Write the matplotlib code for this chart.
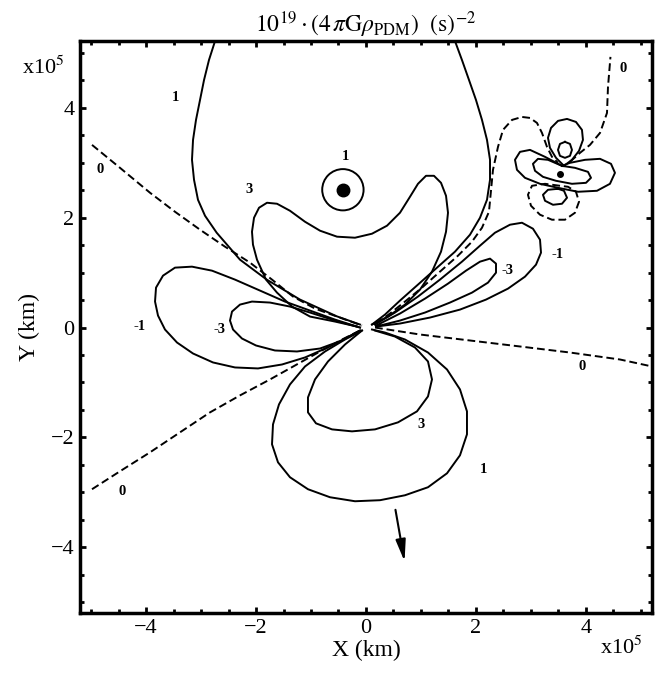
import matplotlib.pyplot as plt
from matplotlib.patches import Circle

plt.rcParams['font.family'] = ['Liberation Serif', 'DejaVu Serif']
plt.rcParams['mathtext.fontset'] = 'stix'

# contour lines, in units of 1e5 km
c1_left_x = [-2.745, -2.855, -2.945, -3.018, -3.091, -3.145, -3.164, -3.127, -3.055, -2.927, -2.715,
             -2.291, -1.805, -1.2, -0.533, -0.109]
c1_left_y = [5.218, 4.873, 4.509, 4.145, 3.782, 3.418, 3.055, 2.691, 2.327, 2.036, 1.727,
             1.236, 0.873, 0.509, 0.205, 0.055]

c1_right_x = [1.618, 1.745, 1.873, 2.0, 2.109, 2.2, 2.255, 2.255, 2.2, 2.073, 1.891, 1.618, 1.291,
              0.945, 0.618, 0.345, 0.109]
c1_right_y = [5.218, 4.873, 4.509, 4.145, 3.782, 3.418, 3.055, 2.691, 2.327, 2.0, 1.691, 1.382, 1.091,
              0.782, 0.491, 0.236, 0.055]

c3_top_x = [-0.164, -0.564, -1.018, -1.345, -1.618, -1.818, -1.982, -2.055, -2.073, -2.036, -1.945,
            -1.8, -1.618, -1.382, -1.109, -0.836, -0.527, -0.2, 0.109, 0.382, 0.618, 0.8, 0.945,
            1.091, 1.236, 1.364, 1.455, 1.491, 1.455, 1.364, 1.2, 0.982, 0.709, 0.4, 0.109]
c3_top_y = [0.018, 0.109, 0.2, 0.382, 0.636, 0.873, 1.236, 1.509, 1.745, 2.0, 2.182,
            2.273, 2.255, 2.127, 1.927, 1.764, 1.655, 1.636, 1.709, 1.855, 2.091, 2.382, 2.618,
            2.764, 2.764, 2.636, 2.4, 2.091, 1.745, 1.382, 1.018, 0.691, 0.418, 0.2, 0.055]

cm1_left_x = [-0.109, -0.564, -1.018, -1.473, -1.927, -2.382, -2.8, -3.164, -3.473, -3.691, -3.818,
              -3.836, -3.782, -3.655, -3.436, -3.145, -2.782, -2.382, -1.964, -1.527, -1.109,
              -0.655, -0.109]
cm1_left_y = [0, 0.145, 0.309, 0.473, 0.673, 0.873, 1.036, 1.109, 1.091, 0.945, 0.727,
              0.473, 0.218, -0.036, -0.273, -0.473, -0.636, -0.727, -0.745, -0.673, -0.545,
              -0.345, -0.055]

cm3_left_x = [-0.109, -0.564, -1.018, -1.382, -1.745, -2.073, -2.291, -2.436, -2.473, -2.418, -2.255,
              -2.0, -1.655, -1.255, -0.836, -0.436, -0.109]
cm3_left_y = [0, 0.127, 0.273, 0.382, 0.455, 0.473, 0.418, 0.291, 0.127, -0.036, -0.2,
              -0.327, -0.418, -0.436, -0.382, -0.236, -0.055]

c1_low_x = [-0.073, -0.382, -0.745, -1.109, -1.382, -1.582, -1.691, -1.709, -1.6, -1.382, -1.055,
            -0.655, -0.2, 0.255, 0.709, 1.127, 1.473, 1.709, 1.836, 1.836, 1.709, 1.473, 1.127,
            0.709, 0.345, 0.109]
c1_low_y = [-0.055, -0.218, -0.436, -0.709, -1.036, -1.4, -1.764, -2.127, -2.455, -2.727, -2.945,
            -3.091, -3.164, -3.145, -3.055, -2.909, -2.655, -2.327, -1.945, -1.527, -1.127, -0.764, -0.455,
            -0.218, -0.091, -0.036]

c3_low_x = [-0.073, -0.382, -0.691, -0.927, -1.055, -1.055, -0.909, -0.618, -0.255, 0.164, 0.582,
            0.927, 1.127, 1.2, 1.127, 0.891, 0.527, 0.164]
c3_low_y = [-0.055, -0.309, -0.618, -0.945, -1.273, -1.545, -1.745, -1.855, -1.891, -1.855, -1.727,
            -1.527, -1.255, -0.945, -0.618, -0.364, -0.164, -0.055]

cm1_right_x = [0.164, 0.527, 0.945, 1.345, 1.745, 2.073, 2.345, 2.618, 2.836, 3.036, 3.164, 3.182,
               3.091, 2.891, 2.582, 2.182, 1.709, 1.164, 0.618, 0.182]
cm1_right_y = [0.055, 0.273, 0.564, 0.873, 1.2, 1.491, 1.727, 1.873, 1.909, 1.8, 1.6, 1.364,
               1.145, 0.927, 0.709, 0.509, 0.327, 0.182, 0.073, 0.018]

cm3_right_x = [0.182, 0.618, 1.073, 1.491, 1.818, 2.073, 2.255, 2.364, 2.364, 2.218, 1.927, 1.527,
               1.073, 0.618, 0.182]
cm3_right_y = [0.036, 0.255, 0.527, 0.8, 1.036, 1.2, 1.255, 1.164, 1.0, 0.818, 0.636, 0.455,
               0.273, 0.127, 0.018]

# zero contours (dashed)
z_ul_x = [-4.982, -4.473, -3.927, -3.473, -3.018, -2.564, -2.109, -1.709, -1.327, -0.927, -0.527, -0.073]
z_ul_y = [3.327, 2.909, 2.455, 2.109, 1.782, 1.473, 1.182, 0.873, 0.564, 0.345, 0.2, 0.036]
z_ll_x = [-4.982, -4.473, -3.927, -3.382, -2.836, -2.291, -1.745, -1.291, -0.836, -0.436, -0.109]
z_ll_y = [-2.945, -2.618, -2.273, -1.909, -1.545, -1.236, -0.945, -0.691, -0.436, -0.218, -0.055]
z_r_x = [0.164, 0.982, 1.891, 2.8, 3.709, 4.618, 5.2]
z_r_y = [0, -0.127, -0.236, -0.345, -0.455, -0.582, -0.709]
z_moon_x = [0.182, 0.436, 0.709, 1.018, 1.345, 1.673, 1.927, 2.109, 2.236, 2.309, 2.4, 2.491,
            2.655, 2.836, 2.982, 3.109, 3.2, 3.291, 3.382, 3.491]
z_moon_y = [0.073, 0.255, 0.473, 0.727, 1.018, 1.309, 1.564, 1.818, 2.109, 2.873, 3.291, 3.6,
            3.782, 3.836, 3.818, 3.727, 3.545, 3.291, 3.109, 3.0]
z_top_x = [3.709, 3.891, 4.073, 4.255, 4.382, 4.4, 4.445]
z_top_y = [3.018, 3.182, 3.327, 3.545, 3.909, 4.382, 4.93]
z_pet_x = [3.527, 3.255, 3.018, 2.945, 3.0, 3.164, 3.382, 3.618, 3.8, 3.873, 3.818, 3.673, 3.527]
z_pet_y = [2.582, 2.618, 2.582, 2.418, 2.218, 2.055, 1.964, 1.964, 2.091, 2.291, 2.473, 2.564, 2.582]

# contours around the Moon
m_up_x = [3.6, 3.455, 3.345, 3.309, 3.364, 3.491, 3.655, 3.818, 3.927, 3.945, 3.873, 3.745, 3.6]
m_up_y = [2.945, 3.091, 3.273, 3.455, 3.636, 3.764, 3.8, 3.745, 3.6, 3.418, 3.218, 3.055, 2.945]
m_upin_x = [3.618, 3.709, 3.745, 3.709, 3.618, 3.527, 3.491, 3.527, 3.618]
m_upin_y = [3.382, 3.345, 3.236, 3.127, 3.091, 3.127, 3.236, 3.345, 3.382]
m_out_x = [3.564, 3.255, 2.982, 2.8, 2.709, 2.745, 2.891, 3.164, 3.491, 3.855, 4.2, 4.436, 4.527,
           4.455, 4.255, 3.982, 3.709, 3.564]
m_out_y = [2.945, 3.109, 3.236, 3.2, 3.055, 2.873, 2.727, 2.618, 2.545, 2.473, 2.491, 2.618, 2.818,
           2.982, 3.073, 3.055, 3.0, 2.945]
m_in_x = [3.564, 3.309, 3.127, 3.036, 3.073, 3.218, 3.455, 3.745, 4.0, 4.091, 4.036, 3.8, 3.564]
m_in_y = [2.945, 3.055, 3.073, 2.982, 2.855, 2.745, 2.673, 2.618, 2.636, 2.727, 2.836, 2.909, 2.945]
m_low_x = [3.491, 3.309, 3.218, 3.255, 3.4, 3.564, 3.655, 3.6, 3.491]
m_low_y = [2.527, 2.509, 2.418, 2.309, 2.236, 2.255, 2.364, 2.491, 2.527]

moon = (3.527, 2.8)
saddle = (-0.42, 2.51)
bubble_r = 0.376
arrow_from = (0.527, -3.27)
arrow_to = (0.71, -4.31)

labels = ['1', '1', '3', '0', '-1', '-3', '-3', '-1', '0', '3', '1', '0', '0']
label_x = [-3.473, -0.382, -2.127, -4.836, -4.109, -2.655, 2.582, 3.491, 3.927, 1.0, 2.145, -4.436, 4.673]
label_y = [4.182, 3.109, 2.509, 2.873, 0.018, -0.036, 1.036, 1.327, -0.709, -1.764, -2.582, -2.982, 4.727]

fig = plt.figure(figsize=(6.64, 6.77), dpi=100)
ax = fig.add_axes([0.1205, 0.0945, 0.8614, 0.845])

solid = dict(color='black', lw=1.4)
dashed = dict(color='black', lw=1.4, ls=(0, (4, 2)))

for xs, ys in [(c1_left_x, c1_left_y), (c1_right_x, c1_right_y), (c3_top_x, c3_top_y),
               (cm1_left_x, cm1_left_y), (cm3_left_x, cm3_left_y), (c1_low_x, c1_low_y),
               (c3_low_x, c3_low_y), (cm1_right_x, cm1_right_y), (cm3_right_x, cm3_right_y),
               (m_up_x, m_up_y), (m_upin_x, m_upin_y), (m_out_x, m_out_y), (m_in_x, m_in_y),
               (m_low_x, m_low_y)]:
    ax.plot(xs, ys, **solid)

for xs, ys in [(z_ul_x, z_ul_y), (z_ll_x, z_ll_y), (z_r_x, z_r_y), (z_moon_x, z_moon_y),
               (z_top_x, z_top_y), (z_pet_x, z_pet_y)]:
    ax.plot(xs, ys, **dashed)

ax.add_patch(Circle(saddle, bubble_r, fill=False, color='black', lw=1.4))
ax.plot(*saddle, 'o', color='black', ms=9)
ax.plot(*moon, 'o', color='black', ms=4)

ax.annotate('', xy=arrow_to, xytext=arrow_from,
            arrowprops=dict(arrowstyle='-|>,head_width=0.3,head_length=1.3', color='black', lw=1.5))

for t, x, y in zip(labels, label_x, label_y):
    ax.text(x, y, t, fontsize=10.5, fontweight='bold', ha='center', va='center')

ax.set_xlim(-5.2, 5.2)
ax.set_ylim(-5.2, 5.22)
ax.set_xticks([-4, -2, 0, 2, 4])
ax.set_yticks([-4, -2, 0, 2, 4])
ax.set_xticks([i * 0.5 for i in range(-10, 11)], minor=True)
ax.set_yticks([i * 0.5 for i in range(-10, 11)], minor=True)
ax.set_xticklabels(['\u22124', '\u22122', '0', '2', '4'])
ax.set_yticklabels(['\u22124', '\u22122', '0', '2', '4'])
ax.tick_params(which='both', direction='in', top=True, right=True, labelsize=16, width=2, pad=4)
ax.tick_params(which='major', length=4)
ax.tick_params(which='minor', length=3)
for s in ax.spines.values():
    s.set_linewidth(2.5)

ax.set_title(r'$10^{19}\cdot(4\,\pi \mathrm{G}\rho_{\mathrm{PDM}})\ \ (\mathrm{s})^{-2}$', fontsize=17, pad=6)
ax.set_xlabel('X (km)', fontsize=17, labelpad=2)
ax.set_ylabel('Y (km)', fontsize=17, labelpad=8)
fig.text(0.065, 0.9, r'x10$^5$', fontsize=16, ha='center', va='center')
fig.text(0.935, 0.043, r'x10$^5$', fontsize=16, ha='center', va='center')

fig.savefig('out.png', dpi=100)
